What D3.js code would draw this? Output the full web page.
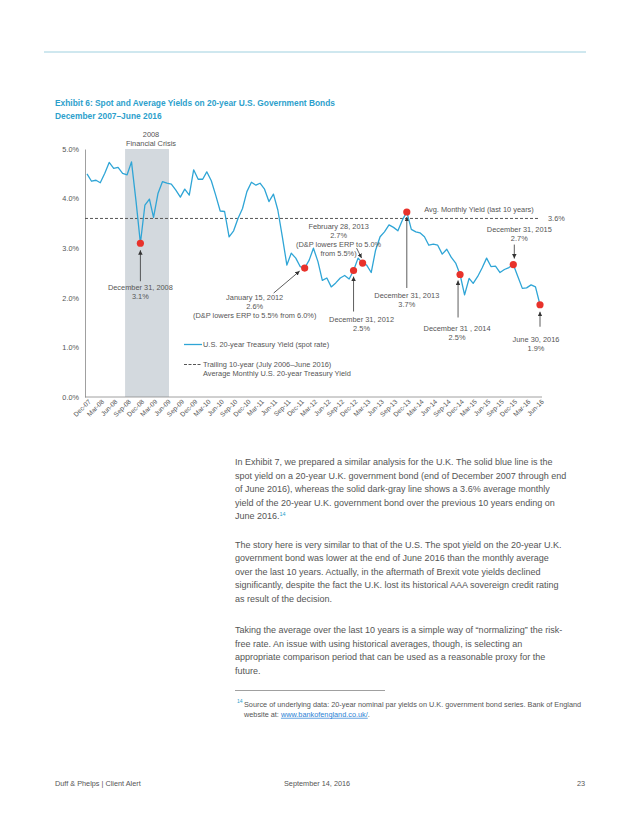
<!DOCTYPE html>
<html>
<head>
<meta charset="utf-8">
<script src="https://cdn.jsdelivr.net/npm/d3@7"></script>
<style>
body { margin: 0; background: #fff; }
text { font-family: "Liberation Sans", Arial, sans-serif; }
</style>
</head>
<body>
<div class="canva"></div>
<script>
// month-end 20-year U.S. Treasury yield, Dec-07 .. Jun-16
var yields = [
    4.50,                                                             // Dec-07
    4.35, 4.37, 4.32, 4.51, 4.73, 4.61, 4.63, 4.51, 4.48, 4.74, 3.95, 3.10, // 2008
    3.87, 3.99, 3.62, 4.11, 4.34, 4.31, 4.29, 4.17, 4.03, 4.19, 4.07, 4.58, // 2009
    4.39, 4.39, 4.54, 4.36, 4.07, 3.75, 3.74, 3.23, 3.35, 3.60, 3.80, 4.14, // 2010
    4.33, 4.27, 4.31, 4.19, 3.94, 4.09, 3.77, 3.23, 2.66, 2.90, 2.80, 2.63, // 2011
    2.60, 2.76, 3.00, 2.73, 2.35, 2.40, 2.22, 2.30, 2.40, 2.45, 2.38, 2.55, // 2012
    2.80, 2.70, 2.66, 2.51, 2.96, 3.23, 3.33, 3.47, 3.42, 3.35, 3.57, 3.73, // 2013
    3.38, 3.33, 3.31, 3.23, 3.06, 3.08, 3.06, 2.88, 2.98, 2.82, 2.70, 2.47, // 2014
    2.06, 2.39, 2.29, 2.43, 2.60, 2.80, 2.63, 2.64, 2.51, 2.57, 2.61, 2.67, // 2015
    2.43, 2.19, 2.20, 2.26, 2.22, 1.86                                // 2016
];

var avgYield = 3.6;

var tickLabels = ['Dec-07','Mar-08','Jun-08','Sep-08','Dec-08','Mar-09','Jun-09','Sep-09',
    'Dec-09','Mar-10','Jun-10','Sep-10','Dec-10','Mar-11','Jun-11','Sep-11','Dec-11',
    'Mar-12','Jun-12','Sep-12','Dec-12','Mar-13','Jun-13','Sep-13','Dec-13','Mar-14',
    'Jun-14','Sep-14','Dec-14','Mar-15','Jun-15','Sep-15','Dec-15','Mar-16','Jun-16'];

var yTicks = [0, 1, 2, 3, 4, 5];

var crisis = ['2008-08-18', '2009-06-15'];

var events = [
    {month: 'Dec-08', lines: ['December 31, 2008', '3.1%']},
    {month: 'Jan-12', lines: ['January 15, 2012', '2.6%', '(D&P lowers ERP to 5.5% from 6.0%)']},
    {month: 'Dec-12', lines: ['December 31, 2012', '2.5%']},
    {month: 'Feb-13', lines: ['February 28, 2013', '2.7%', '(D&P lowers ERP to 5.0%', 'from 5.5%)']},
    {month: 'Dec-13', lines: ['December 31, 2013', '3.7%']},
    {month: 'Dec-14', lines: ['December 31 , 2014', '2.5%']},
    {month: 'Dec-15', lines: ['December 31, 2015', '2.7%']},
    {month: 'Jun-16', lines: ['June 30, 2016', '1.9%']}
];

// label / arrow offsets from each dot (same order as events)
var noteLayout = [
    {dx: 0,   dy: 47,  a: [0, 38, 0, 7]},
    {dx: -50, dy: 32,  a: [-31, 25, -5, 3]},
    {dx: 8,   dy: 51,  a: [0, 41, 0, 6]},
    {dx: -24, dy: -34, a: [-6, -15, -1, -5]},
    {dx: 0,   dy: 86,  a: [0, 76, 0, 5]},
    {dx: -3,  dy: 57,  a: [-2, 43, -2, 6]},
    {dx: 6,   dy: -33, a: [1, -20, 1, -6]},
    {dx: -4,  dy: 37,  a: [0, 22, 0, 7]}
];

var para1 = [
    'In Exhibit 7, we prepared a similar analysis for the U.K. The solid blue line is the',
    'spot yield on a 20-year U.K. government bond (end of December 2007 through end',
    'of June 2016), whereas the solid dark-gray line shows a 3.6% average monthly',
    'yield of the 20-year U.K. government bond over the previous 10 years ending on',
    'June 2016.'
];
var para2 = [
    'The story here is very similar to that of the U.S. The spot yield on the 20-year U.K.',
    'government bond was lower at the end of June 2016 than the monthly average',
    'over the last 10 years. Actually, in the aftermath of Brexit vote yields declined',
    'significantly, despite the fact the U.K. lost its historical AAA sovereign credit rating',
    'as result of the decision.'
];
var para3 = [
    'Taking the average over the last 10 years is a simple way of \u201cnormalizing\u201d the risk-',
    'free rate. An issue with using historical averages, though, is selecting an',
    'appropriate comparison period that can be used as a reasonable proxy for the',
    'future.'
];

var parseMonth = d3.timeParse('%b-%y');
var dates = d3.timeMonth.range(new Date(2007, 11, 1), new Date(2016, 6, 1));

var teal = '#2d9fcc';
var grey = '#555';
var blue = '#2fa5d6';
var red = '#e8322b';

const svg = d3.select('.canva').append('svg')
    .attr('width', 638)
    .attr('height', 826);

// page rule
svg.append('line')
    .attr('x1', 44).attr('x2', 586)
    .attr('y1', 52).attr('y2', 52)
    .attr('stroke', '#9fd0df').attr('stroke-width', 1);

svg.append('text').attr('x', 55).attr('y', 106)
    .attr('font-size', 8.4).attr('font-weight', 'bold').attr('fill', teal)
    .text('Exhibit 6: Spot and Average Yields on 20-year U.S. Government Bonds');
svg.append('text').attr('x', 55).attr('y', 119)
    .attr('font-size', 8.4).attr('font-weight', 'bold').attr('fill', teal)
    .text('December 2007\u2013June 2016');

//scales
var x = d3.scaleTime()
    .domain(d3.extent(dates))
    .range([87, 540]);

var y = d3.scaleLinear()
    .domain([0, 5])
    .range([397, 149]);

const chart = svg.append('g');

// crisis shading
chart.append('rect')
    .attr('x', x(new Date(crisis[0])))
    .attr('width', x(new Date(crisis[1])) - x(new Date(crisis[0])))
    .attr('y', y(5))
    .attr('height', y(0) - y(5))
    .attr('fill', '#d3d9de');

chart.selectAll('.crisis-label')
    .data(['2008', 'Financial Crisis'])
    .enter().append('text')
    .attr('x', 151).attr('y', (d, i) => 136.5 + i * 9)
    .attr('text-anchor', 'middle').attr('font-size', 7.4).attr('fill', grey)
    .text(d => d);

// axes
var yAxis = d3.axisLeft(y)
    .tickValues(yTicks)
    .tickFormat(d => d.toFixed(1) + '%')
    .tickSize(0)
    .tickPadding(6);

const yG = chart.append('g')
    .attr('transform', 'translate(85,0)')
    .call(yAxis);
yG.select('.domain').attr('stroke', '#888').attr('stroke-width', 0.8);
yG.selectAll('text').attr('font-size', 7.3).attr('fill', grey)
    .style('font-family', '"Liberation Sans", Arial, sans-serif');

chart.append('line')
    .attr('x1', 85).attr('x2', 542)
    .attr('y1', y(0)).attr('y2', y(0))
    .attr('stroke', '#888').attr('stroke-width', 0.8);

var xAxis = d3.axisBottom(x)
    .tickValues(tickLabels.map(parseMonth))
    .tickFormat((d, i) => tickLabels[i])
    .tickSize(0)
    .tickPadding(0);

const xG = chart.append('g')
    .attr('transform', `translate(0,${y(0)})`)
    .call(xAxis);
xG.select('.domain').remove();
xG.selectAll('text')
    .attr('x', -1).attr('y', 4).attr('dy', '0.35em')
    .attr('transform', 'rotate(-45)')
    .style('text-anchor', 'end')
    .attr('font-size', 6.6).attr('fill', grey)
    .style('font-family', '"Liberation Sans", Arial, sans-serif');

// average line
chart.append('line')
    .attr('x1', 85).attr('x2', 540)
    .attr('y1', y(avgYield)).attr('y2', y(avgYield))
    .attr('stroke', '#555').attr('stroke-width', 1)
    .attr('stroke-dasharray', '3,2');

chart.append('text').attr('x', 479).attr('y', y(avgYield) - 6)
    .attr('text-anchor', 'middle').attr('font-size', 7.4).attr('fill', grey)
    .text('Avg. Monthly Yield (last 10 years)');
chart.append('text').attr('x', 548).attr('y', y(avgYield) + 3)
    .attr('font-size', 7.4).attr('fill', grey)
    .text(avgYield.toFixed(1) + '%');

// spot yield line
var valueLine = d3.line()
    .x((d, i) => x(dates[i]))
    .y(d => y(d));

chart.append('path')
    .datum(yields)
    .attr('fill', 'none')
    .attr('stroke', blue)
    .attr('stroke-width', 1.3)
    .attr('stroke-linejoin', 'round')
    .attr('d', valueLine);

// arrow head
svg.append('defs').append('marker')
    .attr('id', 'arrow')
    .attr('viewBox', '0 0 6 6')
    .attr('refX', 6).attr('refY', 3)
    .attr('markerWidth', 4.5).attr('markerHeight', 4.5)
    .attr('markerUnits', 'userSpaceOnUse')
    .attr('orient', 'auto')
    .append('path').attr('d', 'M0,0 L6,3 L0,6 z').attr('fill', '#333');

function dotPos(m) {
    var idx = dates.findIndex(d => +d === +parseMonth(m));
    return [x(dates[idx]), y(yields[idx])];
}

events.forEach((ev, k) => {
    var p = dotPos(ev.month);
    var L = noteLayout[k];
    chart.append('line')
        .attr('x1', p[0] + L.a[0]).attr('y1', p[1] + L.a[1])
        .attr('x2', p[0] + L.a[2]).attr('y2', p[1] + L.a[3])
        .attr('stroke', '#333').attr('stroke-width', 0.8)
        .attr('marker-end', 'url(#arrow)');
    chart.append('g').selectAll('text')
        .data(ev.lines)
        .enter().append('text')
        .attr('x', p[0] + L.dx)
        .attr('y', (d, i) => p[1] + L.dy + i * 9)
        .attr('text-anchor', 'middle')
        .attr('font-size', 7.4).attr('fill', grey)
        .text(d => d);
});

//dots
chart.selectAll('.dot')
    .data(events)
    .enter().append('circle')
    .attr('class', 'dot')
    .attr('cx', d => dotPos(d.month)[0])
    .attr('cy', d => dotPos(d.month)[1])
    .attr('r', 3.6)
    .attr('fill', red);

// legend
const legend = chart.append('g');
legend.append('line').attr('x1', 184).attr('x2', 202).attr('y1', 344.5).attr('y2', 344.5)
    .attr('stroke', blue).attr('stroke-width', 1.3);
legend.append('text').attr('x', 203).attr('y', 347.2)
    .attr('font-size', 7.4).attr('fill', grey)
    .text('U.S. 20-year Treasury Yield (spot rate)');
legend.append('line').attr('x1', 184).attr('x2', 202).attr('y1', 364.5).attr('y2', 364.5)
    .attr('stroke', '#555').attr('stroke-width', 1).attr('stroke-dasharray', '3,1.5');
legend.append('text').attr('x', 203).attr('y', 367.2)
    .attr('font-size', 7.4).attr('fill', grey)
    .text('Trailing 10-year (July 2006\u2013June 2016)');
legend.append('text').attr('x', 203).attr('y', 376.2)
    .attr('font-size', 7.4).attr('fill', grey)
    .text('Average Monthly U.S. 20-year Treasury Yield');

// body text
function para(lines, top) {
    var t = svg.append('g').selectAll('text')
        .data(lines)
        .enter().append('text')
        .attr('x', 235)
        .attr('y', (d, i) => top + i * 13.5)
        .attr('font-size', 9).attr('fill', grey)
        .text(d => d);
    return t;
}
var p1 = para(para1, 465);
p1.filter((d, i) => i === para1.length - 1)
    .append('tspan').attr('dy', -3.5).attr('font-size', 5.5).attr('fill', teal).text('14');
para(para2, 547.5);
para(para3, 633);

svg.append('line').attr('x1', 235).attr('x2', 385).attr('y1', 690.5).attr('y2', 690.5)
    .attr('stroke', '#888').attr('stroke-width', 0.8);

svg.append('text').attr('x', 237).attr('y', 703)
    .attr('font-size', 5).attr('fill', teal).text('14');
svg.append('text').attr('x', 244).attr('y', 706.5)
    .attr('font-size', 7.3).attr('fill', grey)
    .text('Source of underlying data: 20-year nominal par yields on U.K. government bond series. Bank of England');
const fn2 = svg.append('text').attr('x', 244).attr('y', 716.8)
    .attr('font-size', 7.3).attr('fill', grey);
fn2.append('tspan').text('website at: ');
fn2.append('tspan').attr('fill', '#2a7fd4').attr('text-decoration', 'underline').text('www.bankofengland.co.uk/');
fn2.append('tspan').text('.');

// footer
svg.append('text').attr('x', 55).attr('y', 786)
    .attr('font-size', 7.3).attr('fill', grey).text('Duff & Phelps | Client Alert');
svg.append('text').attr('x', 284).attr('y', 786)
    .attr('font-size', 7.3).attr('fill', grey).text('September 14, 2016');
svg.append('text').attr('x', 585).attr('y', 786).attr('text-anchor', 'end')
    .attr('font-size', 7.3).attr('fill', grey).text('23');
</script>
</body>
</html>
